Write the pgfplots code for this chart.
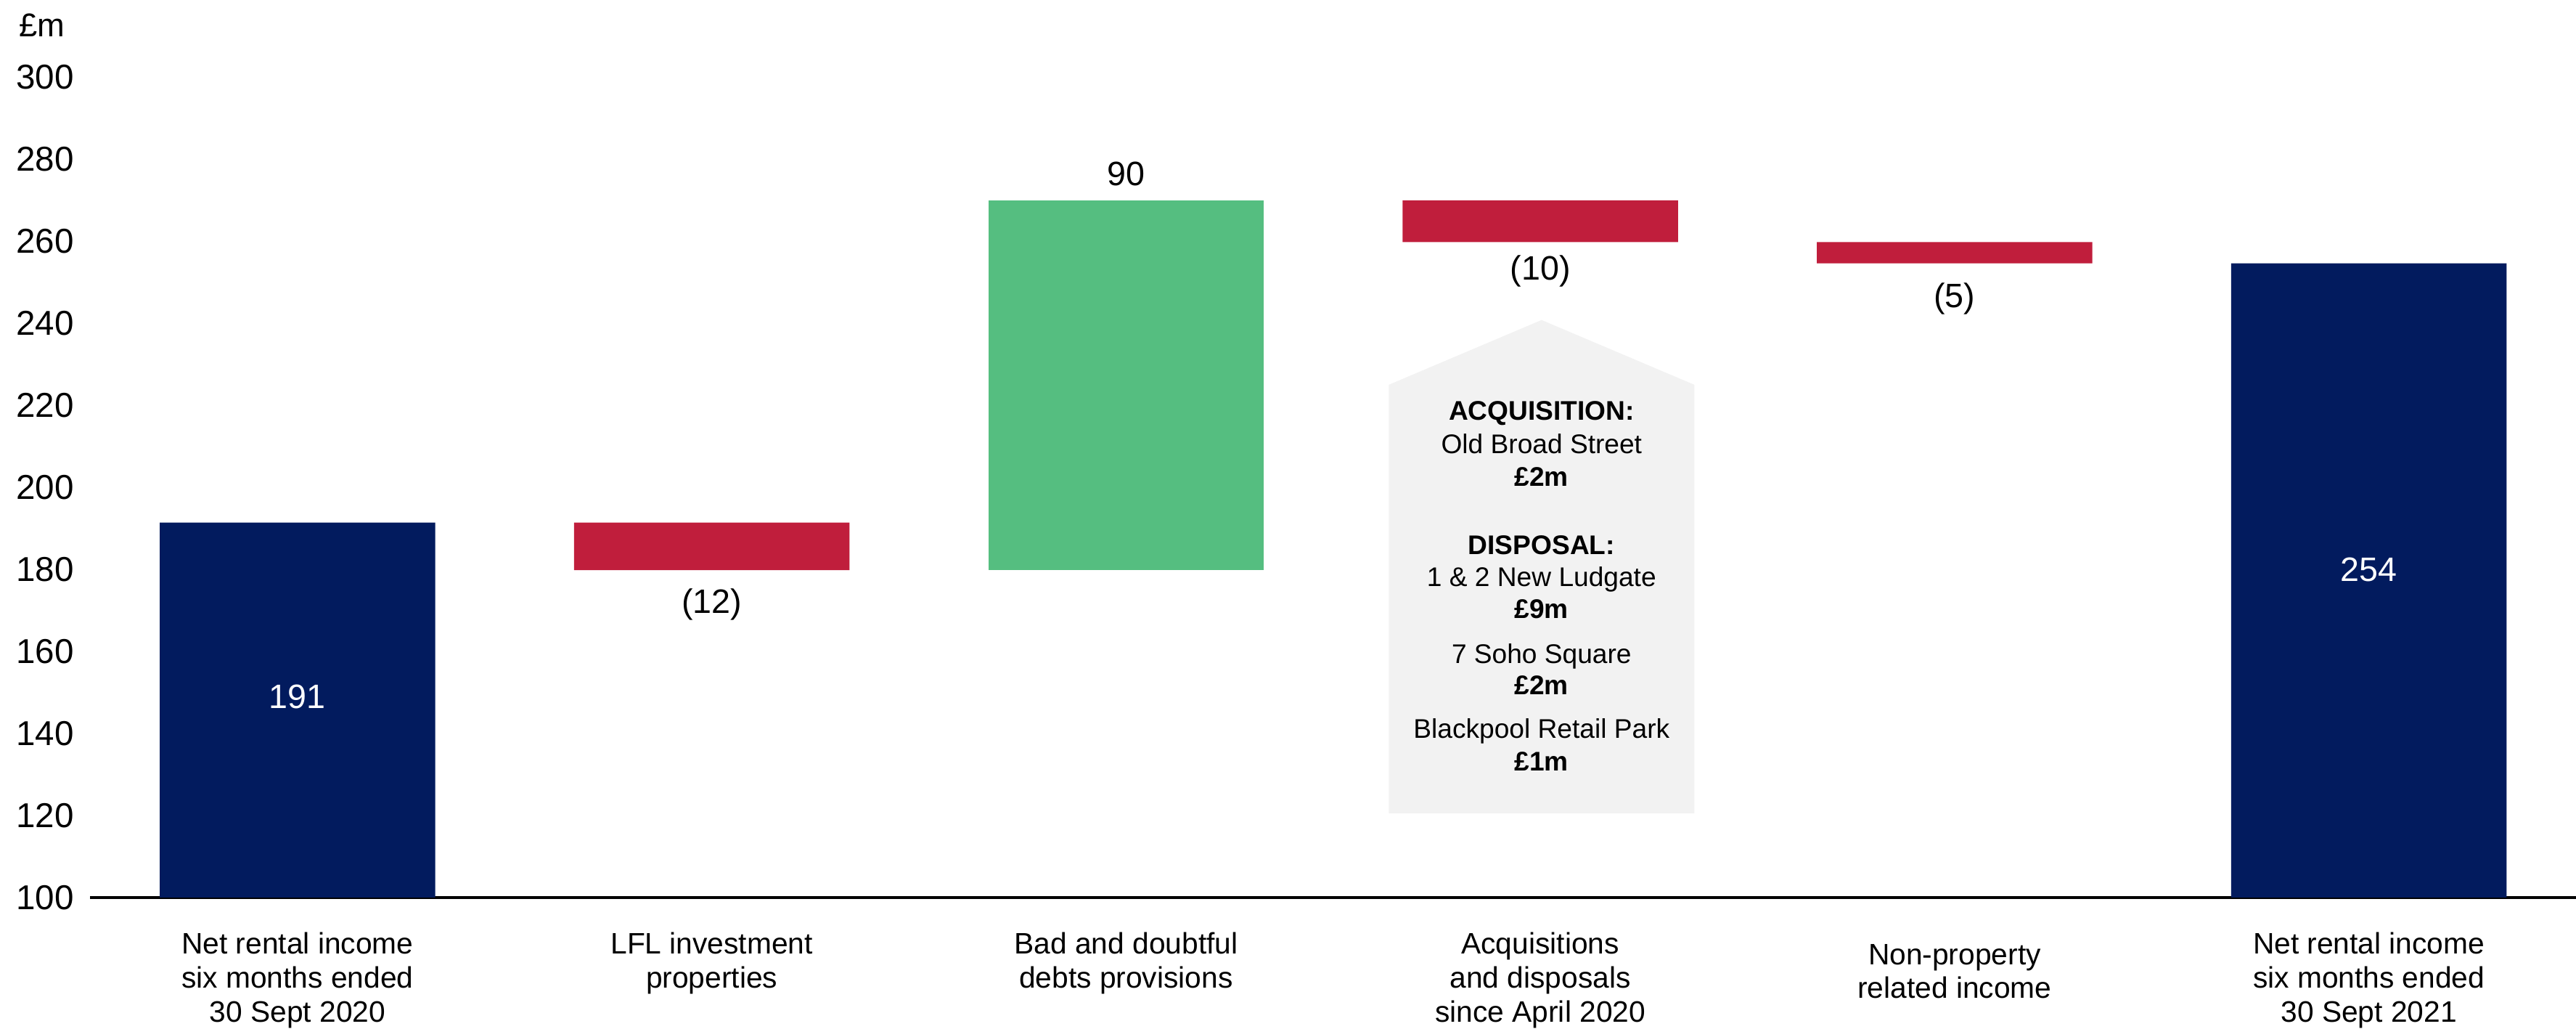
\documentclass[border=0pt]{standalone}
\usepackage{fontspec}
\setmainfont{Liberation Sans}
\usepackage{pgfplots}
\pgfplotsset{compat=1.18}
\usetikzlibrary{calc}

\definecolor{wnavy}{RGB}{2,27,94}
\definecolor{wred}{RGB}{192,30,60}
\definecolor{wgreen}{RGB}{85,190,128}
\definecolor{wgrey}{RGB}{242,242,242}

\tikzset{
  wlbl/.style={font=\fontsize{10.3}{12}\selectfont, inner sep=0pt,
    text height=0.72em, text depth=0pt, anchor=center},
  wbox/.style={font=\fontsize{8.2}{10}\selectfont, inner sep=0pt,
    text height=0.72em, text depth=0pt, anchor=center},
  wboxb/.style={wbox, font=\fontsize{8.2}{10}\selectfont\bfseries},
}

\begin{document}
\begin{tikzpicture}
\begin{axis}[
    scale only axis, width=756.5pt, height=249.5pt,
    xmin=-0.5, xmax=5.5, ymin=100, ymax=300,
    ybar stacked, bar width=0.665,
    axis lines=left, axis line style={-},
    x axis line style={line width=0.8pt},
    y axis line style={draw=none},
    major tick length=0pt,
    ytick={100,120,...,300},
    xtick={0,...,5},
    xticklabels={
      {Net rental income\\six months ended\\30 Sept 2020},
      {LFL investment\\properties},
      {Bad and doubtful\\debts provisions},
      {Acquisitions\\and disposals\\since April 2020},
      {\rule{0pt}{9.7pt}Non-property\\related income},
      {Net rental income\\six months ended\\30 Sept 2021}},
    xticklabel style={align=center, anchor=north, inner sep=0pt,
      yshift=-10.5pt, font=\fontsize{9}{10.3}\selectfont},
    yticklabel style={anchor=east, inner sep=0pt, xshift=-4.8pt,
      text height=0.72em, text depth=0pt,
      font=\fontsize{10.5}{12}\selectfont},
    /pgf/number format/assume math mode=true,
    clip mode=individual,
]
% callout shape
\fill[wgrey] (axis cs:2.634,120.5) -- (axis cs:2.634,225) -- (axis cs:3.003,240.8)
  -- (axis cs:3.372,225) -- (axis cs:3.372,120.5) -- cycle;

% invisible base of the floating bars
\addplot[draw=none, fill=none] coordinates {(0,0) (1,179.8) (2,179.8) (3,259.8) (4,254.6) (5,0)};
\addplot[draw=none, fill=wnavy] coordinates {(0,191.4) (1,0) (2,0) (3,0) (4,0) (5,254.6)};
\addplot[draw=none, fill=wred] coordinates {(0,0) (1,11.6) (2,0) (3,10.2) (4,5.2) (5,0)};
\addplot[draw=none, fill=wgreen] coordinates {(0,0) (1,0) (2,90.2) (3,0) (4,0) (5,0)};

% anchor points for the labels (drawn after the axis, above the bars)
\coordinate (v0) at (axis cs:0,149);
\coordinate (v1) at (axis cs:1,172.1);
\coordinate (v2) at (axis cs:2,276.4);
\coordinate (v3) at (axis cs:3,253.5);
\coordinate (v4) at (axis cs:4,246.7);
\coordinate (v5) at (axis cs:5,180);
\coordinate (unit) at (axis cs:-0.674,312.8);
\coordinate (b1) at (axis cs:3.003,219.2);
\coordinate (b2) at (axis cs:3.003,211.2);
\coordinate (b3) at (axis cs:3.003,203.1);
\coordinate (b4) at (axis cs:3.003,186.6);
\coordinate (b5) at (axis cs:3.003,178.7);
\coordinate (b6) at (axis cs:3.003,170.9);
\coordinate (b7) at (axis cs:3.003,159.9);
\coordinate (b8) at (axis cs:3.003,152.3);
\coordinate (b9) at (axis cs:3.003,141.7);
\coordinate (b10) at (axis cs:3.003,133.7);
\end{axis}

\node[wlbl, text=white] at (v0) {191};
\node[wlbl] at (v1) {(12)};
\node[wlbl] at (v2) {90};
\node[wlbl] at (v3) {(10)};
\node[wlbl] at (v4) {(5)};
\node[wlbl, text=white] at (v5) {254};

\node[font=\fontsize{10}{12}\selectfont, inner sep=0pt, text height=0.72em,
  text depth=0pt, anchor=west] at (unit) {£m};

\node[wboxb] at (b1) {ACQUISITION:};
\node[wbox] at (b2) {Old Broad Street};
\node[wboxb] at (b3) {£2m};
\node[wboxb] at (b4) {DISPOSAL:};
\node[wbox] at (b5) {1 \& 2 New Ludgate};
\node[wboxb] at (b6) {£9m};
\node[wbox] at (b7) {7 Soho Square};
\node[wboxb] at (b8) {£2m};
\node[wbox] at (b9) {Blackpool Retail Park};
\node[wboxb] at (b10) {£1m};

\pgfresetboundingbox
\path ($(current axis.south west)+(-27.5pt,-40pt)$) rectangle ($(current axis.south east)+(0pt,273pt)$);
\end{tikzpicture}
\end{document}
